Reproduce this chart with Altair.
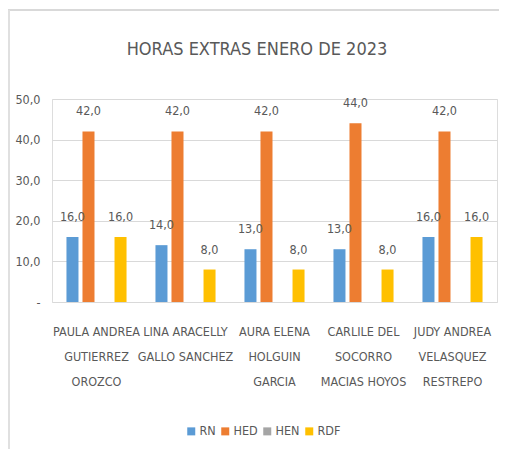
import altair as alt
import pandas as pd

title = "HORAS EXTRAS ENERO DE 2023"
employees = [
    "PAULA ANDREA|GUTIERREZ|OROZCO",
    "LINA ARACELLY|GALLO SANCHEZ",
    "AURA ELENA|HOLGUIN|GARCIA",
    "CARLILE DEL|SOCORRO|MACIAS HOYOS",
    "JUDY ANDREA|VELASQUEZ|RESTREPO",
]
series = ["RN", "HED", "HEN", "RDF"]
colors = ["#5B9BD5", "#ED7D31", "#A5A5A5", "#FFC000"]
rn = [16, 14, 13, 13, 16]
hed = [42, 42, 42, 44, 42]
hen = [0, 0, 0, 0, 0]
rdf = [16, 8, 8, 8, 16]

rows = []
for s, vals in zip(series, [rn, hed, hen, rdf]):
    for e, v in zip(employees, vals):
        rows.append({"empleado": e, "serie": s, "valor": v})
df = pd.DataFrame(rows)

FONT = "DejaVu Sans Condensed, sans-serif"
GRAY = "#595959"
FS = 12.5

x = alt.X("empleado:N", sort=employees,
          scale=alt.Scale(paddingInner=0.28, paddingOuter=0.14),
          axis=alt.Axis(title=None, labelAngle=0, domain=False, ticks=False,
                        labelExpr="split(datum.label, '|')",
                        labelLineHeight=25, labelPadding=29,
                        labelFontSize=FS, labelFont=FONT, labelColor=GRAY,
                        labelBaseline="middle"))
xoff = alt.XOffset("serie:N", sort=series,
                   scale=alt.Scale(paddingInner=0.25, paddingOuter=0.125))
y = alt.Y("valor:Q", scale=alt.Scale(domain=[0, 50]),
          axis=alt.Axis(title=None, values=[0, 10, 20, 30, 40, 50],
                        domain=False, ticks=False, gridColor="#d9d9d9",
                        labelPadding=12, labelFontSize=FS, labelFont=FONT,
                        labelColor=GRAY,
                        labelExpr="datum.value == 0 ? '-' : replace(format(datum.value, '.1f'), '.', ',')"))
color = alt.Color("serie:N", sort=series,
                  scale=alt.Scale(domain=series, range=colors),
                  legend=alt.Legend(title=None, orient="none", direction="horizontal",
                                    legendX=133, legendY=326,
                                    symbolType="square", symbolSize=64,
                                    labelFontSize=FS, labelFont=FONT,
                                    labelColor=GRAY, columnPadding=3,
                                    labelOffset=2))

bars = alt.Chart(df).mark_bar().encode(x=x, xOffset=xoff, y=y, color=color)
labels = alt.Chart(df).transform_filter("datum.valor > 0").transform_calculate(
    lbl="replace(format(datum.valor, '.1f'), '.', ',')"
).mark_text(baseline="bottom", dy=-13, fontSize=FS, font=FONT, color=GRAY).encode(
    x=alt.X("empleado:N", sort=employees), xOffset=alt.XOffset("serie:N", sort=series),
    y="valor:Q", text="lbl:N")

frame_df = pd.DataFrame({"k": [0]})
top_border = alt.Chart(frame_df).mark_rule(color="#d9d9d9", strokeWidth=2).encode(
    x=alt.value(-44), x2=alt.value(460), y=alt.value(-89))
left_border = alt.Chart(frame_df).mark_rule(color="#e0e0e0", strokeWidth=2).encode(
    x=alt.value(-43), y=alt.value(-89), y2=alt.value(400))
title_mark = alt.Chart(frame_df).mark_text(
    fontSize=18, font=FONT, color=GRAY, align="center", baseline="middle"
).encode(x=alt.value(205), y=alt.value(-49), text=alt.value(title))

chart = alt.layer(top_border, left_border, title_mark, bars, labels).properties(
    width=445, height=203,
    autosize=alt.AutoSizeParams(type="none"),
    padding={"left": 44, "top": 91, "right": 2, "bottom": 147},
).configure_view(stroke=None).configure(background="white")

chart.save("out.html", embed_options={"renderer": "svg", "actions": False})
